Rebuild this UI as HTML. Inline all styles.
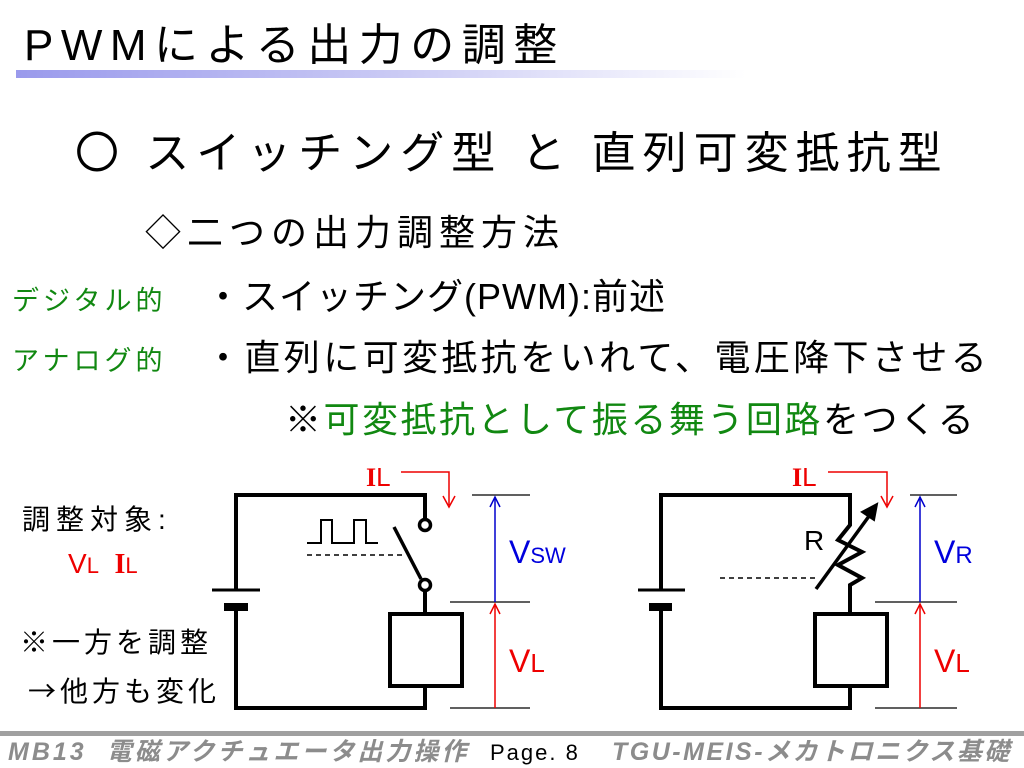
<!DOCTYPE html>
<html><head><meta charset="utf-8"><style>
body{margin:0;width:1024px;height:768px;background:#fff;overflow:hidden;position:relative;font-family:"Liberation Sans","Noto Sans CJK JP",sans-serif;}
.t{position:absolute;white-space:nowrap;line-height:1;}
.g{color:#118811}.r{color:#ee0000}
</style></head><body>
<div class="t" style="left:24px;top:24px;font-size:44px;letter-spacing:7.5px;">PWMによる出力の調整</div>
<div style="position:absolute;left:16px;top:70px;width:730px;height:8px;background:linear-gradient(to right,#9a9aec,#c8c8f4 50%,#fff);"></div>
<div class="t" style="left:75px;top:132px;font-size:44px;letter-spacing:7px;">〇 スイッチング型 と 直列可変抵抗型</div>
<div class="t" style="left:145px;top:215px;font-size:36px;letter-spacing:6px;">◇二つの出力調整方法</div>
<div class="t g" style="left:12px;top:288px;font-size:27px;letter-spacing:4px;">デジタル的</div>
<div class="t" style="left:205px;top:279px;font-size:36px;letter-spacing:1px;">・スイッチング(PWM):前述</div>
<div class="t g" style="left:12px;top:348px;font-size:27px;letter-spacing:4px;">アナログ的</div>
<div class="t" style="left:205px;top:340px;font-size:36px;letter-spacing:3.4px;">・直列に可変抵抗をいれて、電圧降下させる</div>
<div class="t" style="left:285px;top:402px;font-size:36px;letter-spacing:2.5px;">※<span class="g">可変抵抗として振る舞う回路</span>をつくる</div>
<div class="t" style="left:22px;top:506px;font-size:28px;letter-spacing:6px;">調整対象:</div>
<div class="t r" style="left:68px;top:550px;font-size:28px;">V<span style="font-size:22px">L</span>&nbsp; <b style="font-family:'Liberation Serif',serif">I</b><span style="font-size:22px">L</span></div>
<div class="t" style="left:20px;top:629px;font-size:28px;letter-spacing:4px;">※一方を調整</div>
<div class="t" style="left:28px;top:676px;font-size:28px;letter-spacing:4px;"><span style="font-family:'Noto Sans CJK JP',sans-serif">→</span>他方も変化</div>
<svg width="1024" height="768" style="position:absolute;left:0;top:0" fill="none">
<g stroke="#000" stroke-width="4">
<path d="M236,590 V495 H425 V519"/><path d="M236,611 V708 H425 V686"/>
<path d="M425,591 V614"/><rect x="390" y="614" width="72" height="72"/>
<circle cx="425" cy="525" r="5.5" stroke-width="3.5"/><circle cx="425" cy="585" r="5.5" stroke-width="3.5"/>
<path d="M394,527 L421,579" stroke-width="3.5"/>
<path d="M212,590 H260" stroke-width="3"/><path d="M224,607 H248" stroke-width="8"/>
</g>
<path d="M307,543 H321 V520 H332 V543 H354 V520 H366 V543 H378" stroke="#000" stroke-width="2"/>
<path d="M307,555 H402" stroke="#000" stroke-width="1.5" stroke-dasharray="5,4"/>
<path d="M401,472 H449 V505" stroke="#e00" stroke-width="1.5"/><path d="M443,496 L449,507 L455,496" stroke="#e00" stroke-width="1.5"/>
<g stroke="#000" stroke-width="1.3"><path d="M472,495 H530 M450,602 H530 M450,708 H530"/></g>
<path d="M495,602 V497" stroke="#00c" stroke-width="1.5"/><path d="M490,507 L495,497 L500,507" stroke="#00c" stroke-width="1.5"/>
<path d="M495,708 V604" stroke="#e00" stroke-width="1.5"/><path d="M490,614 L495,604 L500,614" stroke="#e00" stroke-width="1.5"/>
<g stroke="#000" stroke-width="4">
<path d="M661,590 V495 H850 V525 L838,540 L862,552 L838,565 L862,578 L850,585 V614"/>
<path d="M661,611 V708 H850 V686"/><rect x="815" y="614" width="72" height="72"/>
<path d="M638,590 H685" stroke-width="3"/><path d="M649,607 H672" stroke-width="8"/>
<path d="M816,589 L872,512" stroke-width="3.5"/>
</g>
<path d="M877,504 L862,512 L874,520 Z" fill="#000" stroke="#000" stroke-width="2"/>
<path d="M720,578 H815" stroke="#000" stroke-width="1.5" stroke-dasharray="5,4"/>
<path d="M828,472 H887 V505" stroke="#e00" stroke-width="1.5"/><path d="M881,496 L887,507 L893,496" stroke="#e00" stroke-width="1.5"/>
<g stroke="#000" stroke-width="1.3"><path d="M910,495 H957 M875,602 H957 M875,708 H957"/></g>
<path d="M920,602 V497" stroke="#00c" stroke-width="1.5"/><path d="M915,507 L920,497 L925,507" stroke="#00c" stroke-width="1.5"/>
<path d="M920,708 V604" stroke="#e00" stroke-width="1.5"/><path d="M915,614 L920,604 L925,614" stroke="#e00" stroke-width="1.5"/>
</svg>
<div class="t r" style="left:366px;top:464px;font-size:26px;"><b style="font-family:'Liberation Serif',serif">I</b>L</div>
<div class="t" style="left:509px;top:536px;font-size:32px;color:#0000dd">V<span style="font-size:22px">SW</span></div>
<div class="t r" style="left:509px;top:645px;font-size:32px;">V<span style="font-size:26px">L</span></div>
<div class="t r" style="left:792px;top:464px;font-size:26px;"><b style="font-family:'Liberation Serif',serif">I</b>L</div>
<div class="t" style="left:804px;top:527px;font-size:28px;">R</div>
<div class="t" style="left:934px;top:536px;font-size:32px;color:#0000dd">V<span style="font-size:24px">R</span></div>
<div class="t r" style="left:934px;top:645px;font-size:32px;">V<span style="font-size:26px">L</span></div>
<div style="position:absolute;left:0;top:731px;width:1024px;height:5px;background:#a0a0a0"></div>
<div class="t" style="left:8px;top:740px;font-size:25px;color:#8c8c8c;font-weight:bold;font-style:italic;letter-spacing:3px;">MB13 &nbsp;電磁アクチュエータ出力操作</div>
<div class="t" style="left:490px;top:742px;font-size:22px;color:#000;letter-spacing:2px;">Page. 8</div>
<div class="t" style="left:612px;top:740px;font-size:25px;color:#8c8c8c;font-weight:bold;font-style:italic;letter-spacing:2.5px;">TGU-MEIS-メカトロニクス基礎</div>
</body></html>
